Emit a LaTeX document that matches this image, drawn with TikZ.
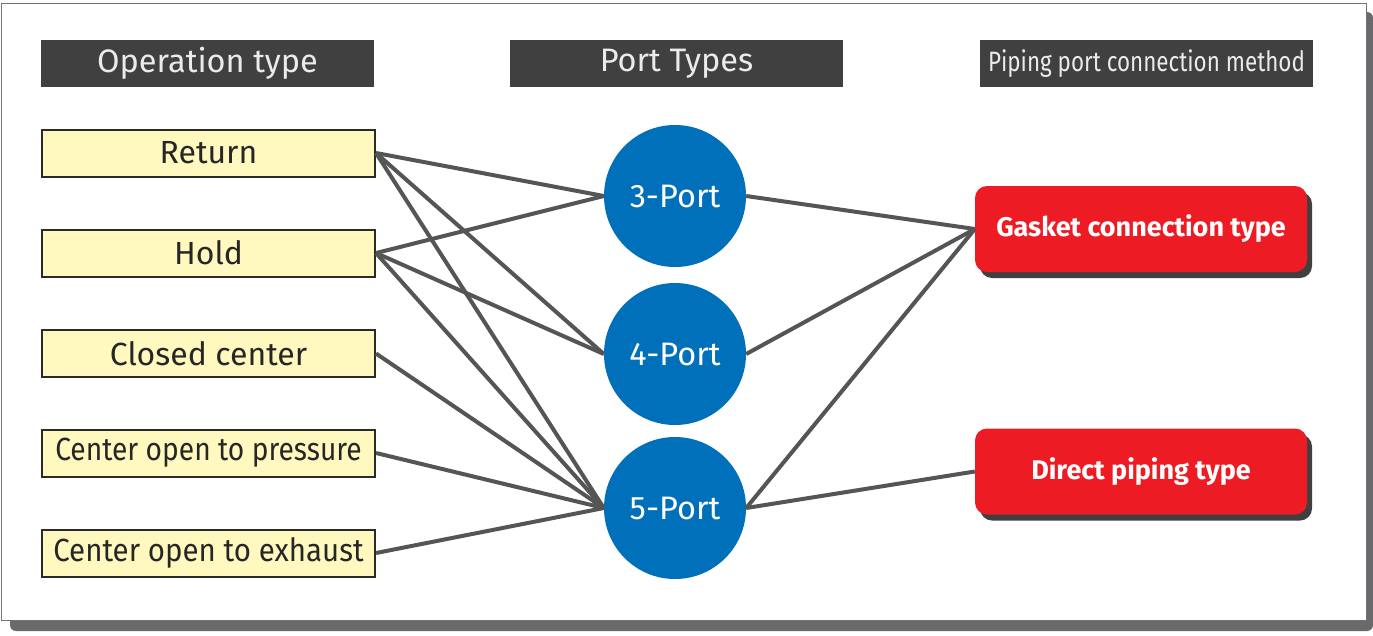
\documentclass[tikz,border=0pt]{standalone}
\usepackage{fontspec}
\setmainfont{Fira Sans}
\usetikzlibrary{shadows}
\definecolor{hdr}{HTML}{404040}
\definecolor{yel}{HTML}{FFF9C0}
\definecolor{ybord}{HTML}{2A2A2A}
\definecolor{pblue}{HTML}{0070BA}
\definecolor{pred}{HTML}{ED1C24}
\definecolor{wire}{HTML}{555555}
\definecolor{frshadow}{HTML}{6A6A6D}
\begin{document}
\begin{tikzpicture}[x=1pt,y=-1pt,
  hdrbox/.style={fill=hdr,text=white!92!black,minimum width=333pt,minimum height=47pt,inner sep=0pt,font=\fontsize{32.5}{34}\selectfont},
  opbox/.style={fill=yel,draw=ybord,line width=2pt,minimum width=333pt,minimum height=47pt,inner sep=0pt,text=black!85,font=\fontsize{32}{34}\selectfont},
  portc/.style={circle,fill=pblue,minimum size=142pt,inner sep=0pt,text=white,font=\fontsize{32.5}{34}\selectfont},
  conbox/.style={fill=pred,rounded corners=12pt,minimum width=332pt,minimum height=86pt,inner sep=0pt,text=white,font=\fontsize{27}{29}\selectfont\bfseries,
    drop shadow={shadow xshift=5pt,shadow yshift=-6pt,fill=hdr,opacity=1}},
  wire/.style={draw=wire,line width=4pt}
]
\useasboundingbox (0,0) rectangle (1373,635);
% outer frame
\fill[frshadow,rounded corners=6pt] (10,12) rectangle (1373,631);
\draw[fill=white,draw=black!55,line width=1pt] (1,3) rectangle (1366,620);
% headers
\node[hdrbox] (h1) at (207.5,63.5) {Operation type};
\node[hdrbox] (h2) at (676.5,63.5) {Port Types};
\node[hdrbox] (h3) at (1146.5,63.5) {\fontsize{28}{30}\selectfont\scalebox{0.8}[1]{Piping port connection method}};
% operation boxes
\node[opbox] (ret) at (208.5,153) {Return};
\node[opbox] (hold) at (208.5,253) {Hold};
\node[opbox] (cc) at (208.5,353.5) {Closed center};
\node[opbox] (cop) at (208.5,453) {\scalebox{0.88}[1]{Center open to pressure}};
\node[opbox] (coe) at (208.5,553) {\scalebox{0.92}[1]{Center open to exhaust}};
% ports
\node[portc] (p3) at (675,196) {3-Port};
\node[portc] (p4) at (675,354) {4-Port};
\node[portc] (p5) at (675,508) {5-Port};
% connection types
\node[conbox] (gas) at (1141,229) {Gasket connection type};
\node[conbox] (dir) at (1141,471.5) {Direct piping type};
% wires
\draw[wire] (ret.east) -- (p3.west);
\draw[wire] (ret.east) -- (p4.west);
\draw[wire] (ret.east) -- (p5.west);
\draw[wire] (hold.east) -- (p3.west);
\draw[wire] (hold.east) -- (p4.west);
\draw[wire] (hold.east) -- (p5.west);
\draw[wire] (cc.east) -- (p5.west);
\draw[wire] (cop.east) -- (p5.west);
\draw[wire] (coe.east) -- (p5.west);
\draw[wire] (p3.east) -- (gas.west);
\draw[wire] (p4.east) -- (gas.west);
\draw[wire] (p5.east) -- (gas.west);
\draw[wire] (p5.east) -- (dir.west);
\end{tikzpicture}
\end{document}
